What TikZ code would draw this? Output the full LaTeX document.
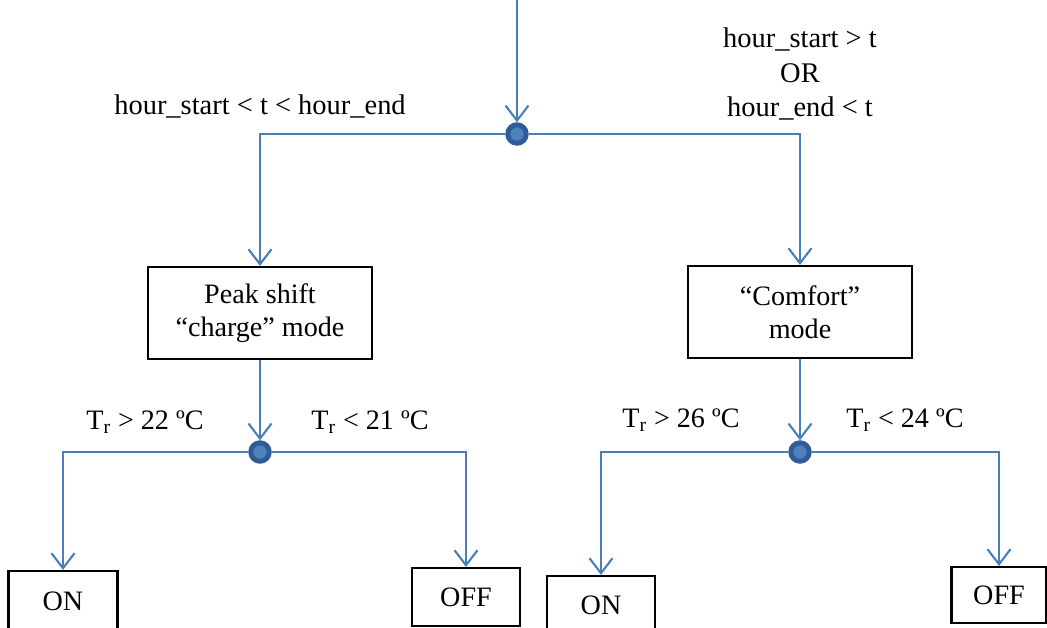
\documentclass[tikz,border=0pt]{standalone}
\usepackage{fontspec}
\setmainfont{Liberation Serif}
\usetikzlibrary{arrows.meta}
\definecolor{lineblue}{HTML}{4A7EBB}
\definecolor{dotdark}{HTML}{2F5C99}
\definecolor{dotlight}{HTML}{4F81BD}
\begin{document}
\begin{tikzpicture}[x=0.02cm, y=-0.02cm]
    \tikzstyle{arrow} = [draw = lineblue, line width = 1.2pt, -{Straight Barb[length = 0.3cm, width = 0.46cm, line width = 1.2pt]}]
    \tikzstyle{dot} = [circle, fill = dotlight, draw = dotdark, line width = 2.8pt, minimum size = 0.37cm, inner sep = 0pt]
    \tikzstyle{mode} = [rectangle, draw = black, line width = 1.2pt, minimum width = 4.48cm, minimum height = 1.84cm, align = center, font = \fontsize{16}{19}\selectfont]
    \tikzstyle{state} = [rectangle, draw = black, line width = 1.2pt, minimum width = 2.16cm, minimum height = 1.16cm, font = \fontsize{16}{19}\selectfont]
    \tikzstyle{cond} = [anchor = base, font = \fontsize{16}{19}\selectfont]
    \useasboundingbox (0,0) rectangle (1047,628);
    \coordinate (top) at (517,-2);
    \node[dot](split) at (517,134){};
    \node[mode](peak) at (260,313){Peak shift\\“charge” mode};
    \node[mode](comfort) at (800,312){“Comfort”\\mode};
    \node[dot](splitL) at (260,452){};
    \node[dot](splitR) at (800,452){};
    \node[state, minimum width = 2.18cm, minimum height = 1.2cm](onL) at (63,601){ON};
    \node[state](offL) at (466,597){OFF};
    \node[state](onR) at (601,605){ON};
    \node[state, minimum width = 1.9cm, minimum height = 1.12cm](offR) at (999,595){OFF};
    \node[anchor = base, font = \fontsize{16.2}{19}\selectfont](inwin) at (260,115){hour\_start < t < hour\_end};
    \node[align = center, font = \fontsize{16.2}{19.4}\selectfont](outwin) at (800,74){hour\_start > t\\OR\\hour\_end < t};
    \node[cond](hotL) at (145,429){T\textsubscript{r} > 22 ºC};
    \node[cond](coldL) at (370,429){T\textsubscript{r} < 21 ºC};
    \node[cond](hotR) at (681,427){T\textsubscript{r} > 26 ºC};
    \node[cond](coldR) at (905,427){T\textsubscript{r} < 24 ºC};
    \draw[arrow] (top) -- (split);
    \draw[arrow] (split) -| (peak);
    \draw[arrow] (split) -| (comfort);
    \draw[arrow] (peak) -- (splitL);
    \draw[arrow] (comfort) -- (splitR);
    \draw[arrow] (splitL) -| (onL);
    \draw[arrow] (splitL) -| (offL);
    \draw[arrow] (splitR) -| (onR);
    \draw[arrow] (splitR) -| (offR);
\end{tikzpicture}
\end{document}
